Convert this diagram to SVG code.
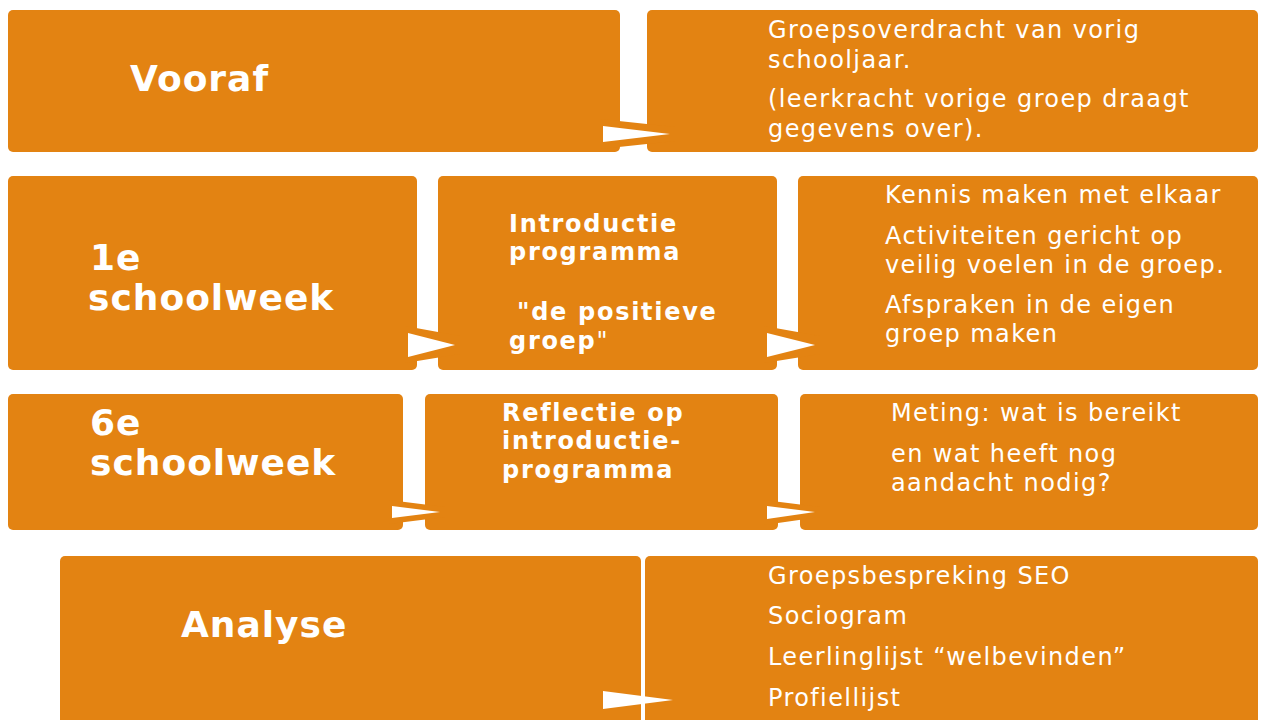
<svg xmlns="http://www.w3.org/2000/svg" width="1261" height="720" viewBox="0 0 1261 720">
<style>
.box{fill:#E38312}
.big{font-family:"DejaVu Sans",Verdana,sans-serif;font-weight:bold;font-size:36px;fill:#fff;letter-spacing:1px}
.mid{font-family:"DejaVu Sans",Verdana,sans-serif;font-weight:bold;font-size:24px;fill:#fff;letter-spacing:1.7px}
.txt{font-family:"DejaVu Sans",Verdana,sans-serif;font-size:24px;fill:#fff;letter-spacing:1.4px}
.band{fill:#E38312}
.arr{fill:#fff}
</style>
<rect width="1261" height="720" fill="#fff"/>
<g id="vooraf"><rect class="box" x="8" y="10" width="612" height="142" rx="5"/><text class="big" x="130" y="91">Vooraf</text></g>
<g id="groepsoverdracht"><rect class="box" x="647" y="10" width="611" height="142" rx="5"/>
<text class="txt" x="768" y="38">Groepsoverdracht van vorig</text>
<text class="txt" x="768" y="68">schooljaar.</text>
<text class="txt" x="768" y="107">(leerkracht vorige groep draagt</text>
<text class="txt" x="768" y="137">gegevens over).</text></g>

<g id="week1"><rect class="box" x="8" y="176" width="409" height="194" rx="5"/>
<text class="big" x="90" y="270">1e</text><text class="big" x="88" y="310">schoolweek</text></g>
<g id="introductie"><rect class="box" x="438" y="176" width="339" height="194" rx="5"/>
<text class="mid" x="509" y="232">Introductie</text>
<text class="mid" x="509" y="260">programma</text>
<text class="mid" x="517" y="320">"de positieve</text>
<text class="mid" x="509" y="349">groep<tspan font-weight="normal">"</tspan></text></g>
<g id="kennis"><rect class="box" x="798" y="176" width="460" height="194" rx="5"/>
<text class="txt" x="885" y="203">Kennis maken met elkaar</text>
<text class="txt" x="885" y="244">Activiteiten gericht op</text>
<text class="txt" x="885" y="273">veilig voelen in de groep.</text>
<text class="txt" x="885" y="313">Afspraken in de eigen</text>
<text class="txt" x="885" y="342">groep maken</text></g>

<g id="week6"><rect class="box" x="8" y="394" width="395" height="136" rx="5"/>
<text class="big" x="90" y="435">6e</text><text class="big" x="90" y="475">schoolweek</text></g>
<g id="reflectie"><rect class="box" x="425" y="394" width="353" height="136" rx="5"/>
<text class="mid" x="502" y="421">Reflectie op</text>
<text class="mid" x="502" y="449">introductie-</text>
<text class="mid" x="502" y="478">programma</text></g>
<g id="meting"><rect class="box" x="800" y="394" width="458" height="136" rx="5"/>
<text class="txt" x="891" y="421">Meting: wat is bereikt</text>
<text class="txt" x="891" y="462">en wat heeft nog</text>
<text class="txt" x="891" y="491">aandacht nodig?</text></g>

<g id="analyse"><rect class="box" x="60" y="556" width="581" height="174" rx="5"/>
<text class="big" x="181" y="637">Analyse</text></g>
<g id="instrumenten"><rect class="box" x="645" y="556" width="613" height="174" rx="5"/>
<text class="txt" x="768" y="584">Groepsbespreking SEO</text>
<text class="txt" x="768" y="624">Sociogram</text>
<text class="txt" x="768" y="665">Leerlinglijst “welbevinden”</text>
<text class="txt" x="768" y="706">Profiellijst</text></g>

<g id="connectors">
<polygon class="band" points="600,119 675,127 675,141 600,149"/>
<polygon class="arr" points="603,126 670,134 603,142"/>
<polygon class="band" points="405,326 460,336 460,354 405,363"/>
<polygon class="arr" points="408,333 455,345 408,357"/>
<polygon class="band" points="764,326 820,336 820,354 764,363"/>
<polygon class="arr" points="767,333 815,345 767,357"/>
<polygon class="band" points="389,500 445,507 445,517 389,524"/>
<polygon class="arr" points="392,506 440,512 392,518"/>
<polygon class="band" points="764,500 820,507 820,517 764,525"/>
<polygon class="arr" points="767,506 815,512 767,519"/>
<polygon class="arr" points="603,691 673,700 603,709"/>
</g>
</svg>
